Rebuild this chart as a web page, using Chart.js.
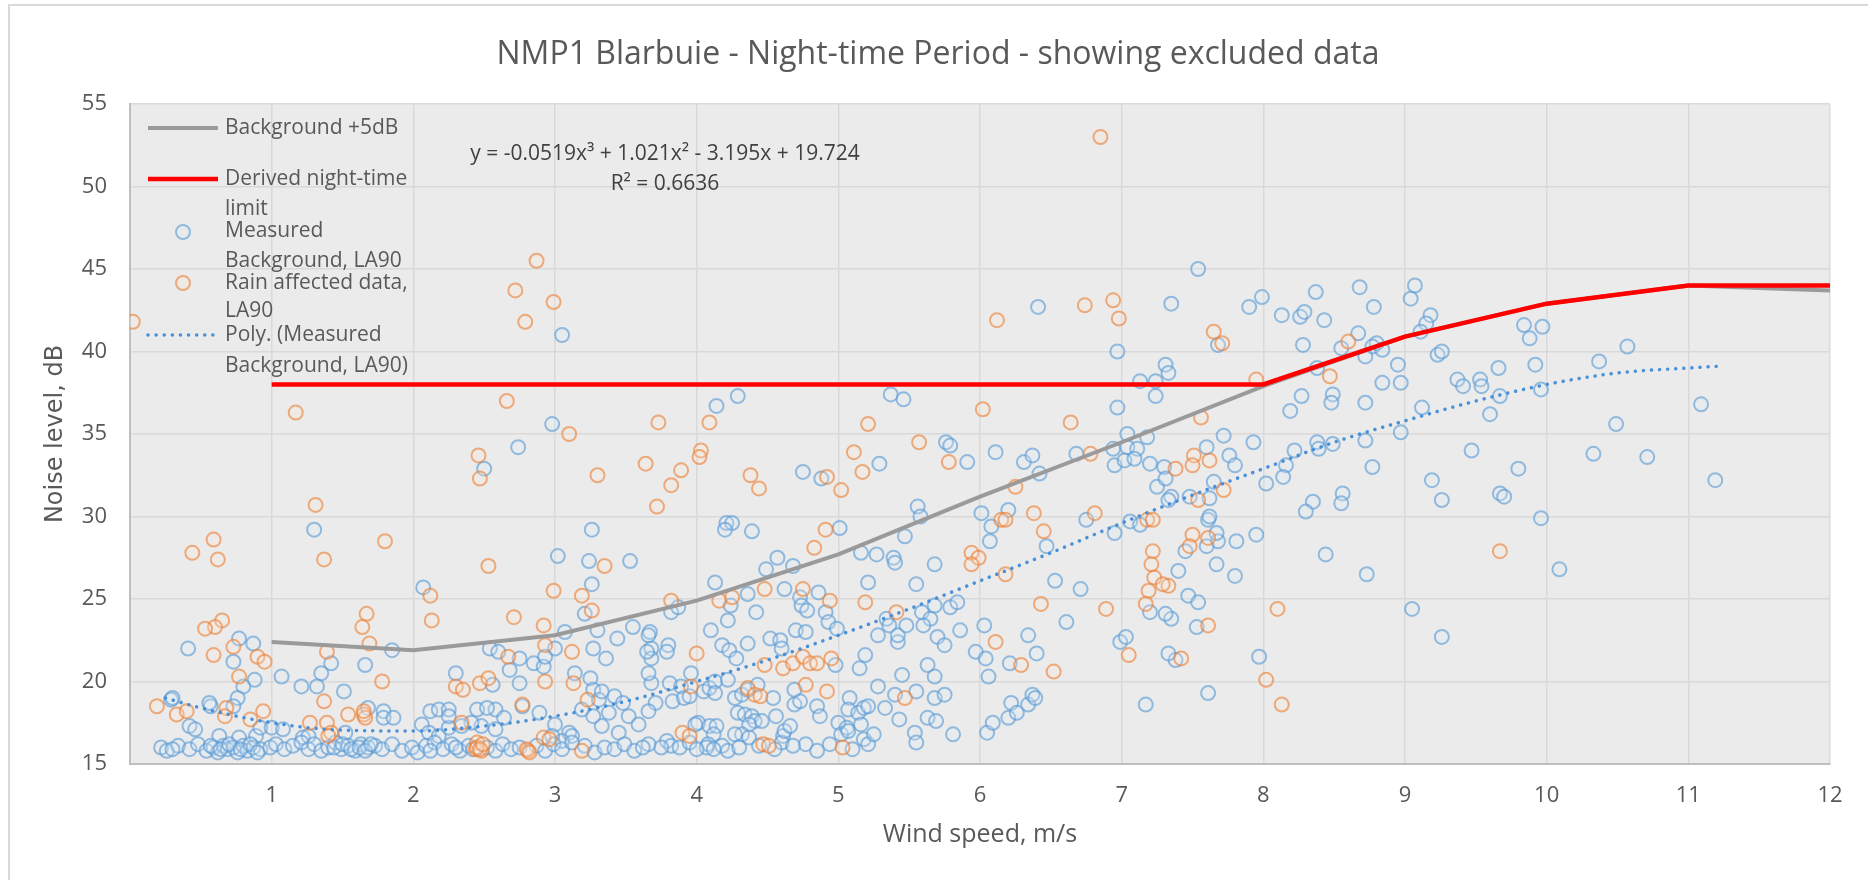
<!DOCTYPE html>
<html>
<head>
<meta charset="utf-8">
<script src="https://cdn.jsdelivr.net/npm/chart.js@4.4.1/dist/chart.umd.min.js"></script>
<style>
  html, body { margin: 0; padding: 0; background: #ffffff; overflow: hidden; }
  #wrap { position: relative; width: 1868px; height: 880px; }
  #frame { position: absolute; left: 8px; top: 4px; width: 2000px; height: 1000px; border: 2px solid #d9d9d9; }
  canvas { position: absolute; left: 0; top: 0; }
</style>
</head>
<body>
<div id="wrap">
  <div id="frame"></div>
  <canvas id="chart" width="1868" height="880"></canvas>
</div>
<script>
const fontFamily = '"Open Sans", "Liberation Sans", sans-serif';
const textColor = "#595959";

const chartTitle = "NMP1 Blarbuie - Night-time Period - showing excluded data";
const xAxisTitle = "Wind speed, m/s";
const yAxisTitle = "Noise level, dB";
const trendEquation = "y = -0.0519x³ + 1.021x² - 3.195x + 19.724";
const trendR2 = "R² = 0.6636";

// Background +5dB and derived limit, read at each integer wind speed
const limitWindSpeeds = [1, 2, 3, 4, 5, 6, 7, 8, 9, 10, 11, 12];
const backgroundPlus5 = [22.4, 21.9, 22.8, 24.9, 27.7, 31.2, 34.5, 37.9, 40.9, 42.9, 44.0, 43.7];
const derivedLimit = [38, 38, 38, 38, 38, 38, 38, 38, 40.9, 42.9, 44.0, 44.0];

// dotted polynomial trendline
const polyWindSpeeds = [0.25, 0.5, 1, 1.5, 2, 2.5, 3, 3.5, 4, 4.5, 5, 5.5, 6, 6.5, 7, 7.5, 8, 8.5, 9, 9.5, 10, 10.5, 11, 11.2];
const polyLevels = [19.0, 18.4, 17.5, 17.05, 17.0, 17.3, 17.9, 18.8, 20.0, 21.3, 22.8, 24.4, 26.1, 27.8, 29.6, 31.3, 32.9, 34.5, 35.8, 37.0, 38.0, 38.7, 39.0, 39.1];

// [wind speed, LA90]
const measuredBackground = [
  [3.05,41.0],[2.98,35.6],[2.74,34.2],[2.50,32.9],
  [6.41,42.7],[7.35,42.9],[6.97,40.0],[7.31,39.2],[7.33,38.7],[7.13,38.2],[7.24,38.2],[7.24,37.3],[6.97,36.6],
  [4.29,37.3],[4.14,36.7],[5.37,37.4],[5.46,37.1],[5.76,34.5],[5.79,34.3],[5.91,33.3],[6.11,33.9],[6.31,33.3],
  [6.37,33.7],[6.42,32.6],[6.68,33.8],[6.94,34.1],[7.04,35.0],[7.04,34.2],[7.11,34.1],[7.18,34.8],[6.95,33.1],
  [7.02,33.4],[7.09,33.5],[7.20,33.2],[7.30,33.0],[5.29,33.2],[4.75,32.7],[4.88,32.3],
  [7.54,45.0],[7.90,42.7],[7.99,43.3],[8.13,42.2],[8.26,42.1],[8.29,42.4],[8.37,43.6],[8.43,41.9],[8.68,43.9],
  [8.78,42.7],[9.07,44.0],[9.04,43.2],[9.18,42.2],[9.15,41.7],[9.11,41.2],[9.84,41.6],[9.97,41.5],[9.88,40.8],
  [7.68,40.4],[8.28,40.4],[8.67,41.1],[8.55,40.2],[8.80,40.5],[8.77,40.3],[8.84,40.1],[8.72,39.7],[8.95,39.2],
  [9.23,39.8],[9.26,40.0],[9.66,39.0],[9.92,39.2],[10.37,39.4],[10.57,40.3],[8.38,39.0],[8.84,38.1],[8.97,38.1],
  [9.37,38.3],[9.41,37.9],[9.53,38.3],[9.54,37.9],[9.67,37.3],[9.96,37.7],[8.27,37.3],[8.49,37.4],[8.48,36.9],
  [8.19,36.4],[8.72,36.9],[9.12,36.6],[9.60,36.2],[10.49,35.6],[11.09,36.8],[8.97,35.1],[8.72,34.6],[7.72,34.9],
  [7.93,34.5],[7.60,34.2],[7.76,33.7],[7.80,33.1],[8.38,34.5],[8.39,34.1],[8.49,34.4],[8.22,34.0],[8.16,33.1],
  [8.77,33.0],[9.47,34.0],[9.80,32.9],[10.33,33.8],[10.71,33.6],[9.19,32.2],[8.02,32.0],[8.14,32.4],[7.65,32.1],
  [8.35,30.9],[8.30,30.3],[8.56,31.4],[8.55,30.8],[9.26,31.0],[9.67,31.4],[9.70,31.2],[9.96,29.9],[10.09,26.8],
  [8.44,27.7],[8.73,26.5],[9.05,24.4],[9.26,22.7],[7.97,21.5],[7.61,19.3],[7.38,21.3],[7.53,23.3],[7.35,23.8],
  [7.47,25.2],[7.54,24.8],[7.40,26.7],[7.67,27.1],[7.80,26.4],[7.95,28.9],[7.81,28.5],[7.68,28.5],[7.60,28.2],
  [7.45,27.9],[7.67,29.0],[7.61,29.8],[7.62,30.0],[7.62,31.1],[7.48,31.2],[7.35,31.2],[11.19,32.2],
  [7.25,31.8],[7.31,32.3],[7.33,31.0],[5.56,30.6],[5.58,30.0],[6.01,30.2],[6.20,30.4],[6.75,29.8],[7.06,29.7],
  [7.13,29.5],[6.95,29.0],[6.08,29.4],[6.07,28.5],[4.21,29.6],[4.25,29.6],[4.20,29.2],[4.39,29.1],[5.01,29.3],
  [5.47,28.8],[4.57,27.5],[4.49,26.8],[4.68,27.0],[5.16,27.8],[5.27,27.7],[5.39,27.5],[5.40,27.2],[5.68,27.1],
  [6.47,28.2],[6.53,26.1],[6.71,25.6],[7.20,24.2],[6.61,23.6],[4.13,26.0],[3.82,24.2],[3.87,24.5],[4.24,24.6],
  [4.22,23.7],[4.36,25.3],[4.42,24.2],[4.62,25.6],[4.73,25.1],[4.74,24.6],[4.78,24.3],[4.86,25.4],[4.91,24.2],
  [4.93,23.6],[4.99,23.2],[5.21,26.0],[5.55,25.9],[5.34,23.8],[5.36,23.4],[5.59,24.2],[5.65,23.8],[5.60,23.4],
  [5.68,24.6],[5.79,24.5],[5.84,24.8],[5.86,23.1],[6.03,23.4],
  [3.67,23.0],[3.68,22.0],[3.68,21.4],[3.80,22.2],[3.79,21.8],[4.10,23.1],[4.18,22.2],[4.23,21.9],[4.28,21.4],
  [4.36,22.3],[4.52,22.6],[4.59,22.5],[4.60,22.0],[4.70,23.1],[4.77,23.0],[4.98,21.0],[5.15,20.8],[5.19,21.6],
  [5.28,22.8],[5.42,22.4],[5.42,22.8],[5.48,23.4],[5.70,22.7],[5.75,22.2],[5.63,21.0],[5.68,20.3],[5.45,20.4],
  [5.97,21.8],[6.04,21.4],[6.34,22.8],[6.40,21.7],[6.21,21.1],[6.06,20.3],[6.99,22.4],[7.03,22.7],[7.33,21.7],
  [7.31,24.1],
  [3.96,20.5],[3.81,19.9],[3.89,19.7],[3.71,18.7],[3.66,18.2],[3.83,18.8],[3.91,19.0],[3.95,19.1],[4.05,19.4],
  [4.09,19.6],[4.13,20.0],[4.22,20.1],[4.13,19.3],[4.01,17.5],[3.99,17.4],[4.09,17.3],[4.14,17.3],[4.12,16.8],
  [4.18,16.1],[4.08,16.2],[3.79,16.4],[3.82,16.1],[3.75,16.0],[3.88,16.0],[3.66,16.2],[4.27,19.0],[4.32,19.2],
  [4.36,19.5],[4.43,19.8],[4.29,18.1],[4.34,18.0],[4.39,17.9],[4.41,17.6],[4.37,17.4],[4.46,17.6],[4.32,16.8],
  [4.37,16.6],[4.27,16.8],[4.44,16.1],[4.61,16.7],[4.60,16.3],[4.62,17.0],[4.66,17.3],[4.56,17.9],[4.54,19.0],
  [4.69,18.6],[4.73,18.8],[4.69,19.5],[4.85,18.5],[4.87,17.9],[4.77,16.2],[4.94,16.2],[5.00,17.5],[5.02,16.8],
  [5.06,17.2],[5.07,17.0],[5.08,19.0],[5.07,18.3],[5.14,18.1],[5.18,18.4],[5.21,18.5],[5.16,17.4],[5.18,16.5],
  [5.21,16.2],[5.25,16.8],[5.28,19.7],[5.33,18.4],[5.40,19.2],[5.43,17.7],[5.55,19.4],[5.54,16.9],[5.55,16.3],
  [5.63,17.8],[5.69,17.6],[5.68,19.0],[5.75,19.2],[5.81,16.8],[6.05,16.9],[6.09,17.5],[6.20,17.8],[6.22,18.7],
  [6.26,18.1],[6.34,18.6],[6.37,19.2],[6.39,19.0],[7.17,18.6],[3.68,19.9],[3.66,20.5],[4.07,16.0],[4.12,15.9],
  [4.22,15.8],[4.30,16.0],[4.55,15.9],[4.68,16.1],[4.85,15.8],[5.10,15.9],[3.95,16.3],[4.00,15.9],
  [1.30,29.2],[3.02,27.6],[3.24,27.3],[3.53,27.3],[3.26,29.2],[3.26,25.9],[3.21,24.1],[3.07,23.0],[3.00,22.0],
  [3.27,22.0],[3.30,23.1],[3.44,22.6],[3.55,23.3],[3.36,21.4],[3.66,22.8],[3.65,21.8],[2.07,25.7],[1.66,21.0],
  [1.42,21.1],[1.35,20.5],[1.32,19.7],[1.21,19.7],[1.85,21.9],[1.51,19.4],[1.07,20.3],
  [0.41,22.0],[0.77,22.6],[0.87,22.3],[0.73,21.2],[0.88,20.1],[0.80,19.7],[0.76,19.0],[0.73,18.5],[0.29,18.9],
  [0.57,18.5],[0.42,17.3],[0.46,17.1],[0.89,16.7],[0.92,17.2],[1.00,17.2],[1.08,17.1],[0.30,19.0],[0.56,18.7],
  [1.68,18.4],[1.79,18.2],[1.79,17.8],[1.86,17.8],[1.52,16.9],
  [2.12,18.2],[2.18,18.3],[2.25,18.3],[2.30,20.5],[2.54,22.0],[2.60,21.8],[2.68,20.7],[2.75,21.4],[2.75,19.9],
  [2.85,21.1],[2.92,20.9],[2.93,21.5],[2.56,19.8],
  [3.14,20.5],[3.25,20.2],[3.27,19.5],[3.31,18.9],[3.33,19.4],[3.42,19.1],[3.48,18.7],[3.38,18.1],[3.52,17.9],
  [3.59,17.4],[3.45,16.9],[3.33,17.3],[3.27,17.9],[3.19,18.3],
  [2.77,18.5],[2.89,18.1],[3.00,17.4],[3.10,16.9],[3.12,16.7],[3.05,16.4],[2.98,16.7],
  [2.58,18.3],[2.64,17.8],[2.58,17.1],[2.48,17.3],[2.41,17.5],[2.34,17.3],[2.06,17.4],[2.11,16.9],[2.18,16.7],
  [2.25,17.2],[2.45,18.3],[2.52,18.4],[2.25,17.9],[0.63,16.7],[0.77,16.6],[1.22,16.6],[1.26,16.7],
  [0.22,16.0],[0.26,15.8],[0.34,16.1],[0.42,15.9],[0.48,16.2],[0.54,15.8],[0.59,16.0],[0.62,15.7],[0.66,16.1],
  [0.69,15.9],[0.73,16.0],[0.76,15.7],[0.80,16.1],[0.83,15.8],[0.87,16.0],[0.92,15.9],[0.99,16.0],[1.03,16.2],
  [1.09,15.9],[1.15,16.1],[1.21,16.3],[1.26,15.9],[1.30,16.2],[1.35,15.8],[1.40,16.0],[1.45,16.3],[1.49,15.9],
  [1.54,16.1],[1.59,15.8],[1.63,16.2],[1.68,16.0],[1.73,16.1],[1.78,15.9],[1.85,16.2],[1.92,15.8],[1.99,16.0],
  [2.03,15.7],[2.09,16.1],[2.15,16.3],[2.21,15.9],[2.27,16.2],[2.33,15.8],[2.39,16.1],[2.52,16.0],[2.58,15.8],
  [2.63,16.2],[2.69,15.9],[2.75,16.0],[2.87,16.1],[2.93,15.8],[2.99,16.2],[3.05,15.9],[3.12,16.3],[3.21,16.1],
  [3.28,15.7],[3.35,16.0],[3.42,15.9],[3.49,16.2],[3.56,15.8],[3.62,16.0],
  [0.57,16.1],[0.64,15.9],[0.70,16.2],[0.78,15.9],[0.85,16.2],[0.90,15.7],[1.44,16.0],[1.50,16.2],[1.56,15.9],
  [1.62,16.0],[1.66,15.8],[1.70,16.2],[2.12,15.8],[2.30,16.0],[2.42,15.9],[0.30,15.9]
];

const rainAffected = [
  [0.02,41.8],[2.87,45.5],[2.72,43.7],[2.99,43.0],[2.79,41.8],
  [2.66,37.0],[1.17,36.3],[3.10,35.0],[2.46,33.7],[2.47,32.3],[3.30,32.5],[3.64,33.2],
  [6.85,53.0],[6.12,41.9],[6.74,42.8],[6.94,43.1],[6.98,42.0],
  [3.73,35.7],[4.09,35.7],[5.21,35.6],[6.02,36.5],[6.64,35.7],[5.57,34.5],[5.78,33.3],[6.78,33.8],
  [5.11,33.9],[5.17,32.7],[4.92,32.4],[4.38,32.5],[4.03,34.0],[4.02,33.6],[3.89,32.8],[3.82,31.9],
  [7.65,41.2],[7.71,40.5],[8.60,40.6],[7.95,38.3],[8.47,38.5],[7.56,36.0],
  [7.51,33.7],[7.50,33.1],[7.62,33.4],[7.38,32.9],
  [9.67,27.9],[8.10,24.4],[8.02,20.1],[8.13,18.6],
  [7.42,21.4],[7.61,23.4],[7.33,25.8],[7.50,28.9],[7.61,28.7],[7.48,28.2],[7.72,31.6],[7.54,31.0],
  [3.72,30.6],[4.44,31.7],[5.02,31.6],[6.25,31.8],[6.15,29.8],[6.18,29.8],[6.38,30.2],[6.81,30.2],[7.18,29.8],
  [7.22,29.8],[6.45,29.1],[4.91,29.2],[4.83,28.1],[5.94,27.8],[5.99,27.5],[5.94,27.1],[7.22,27.9],[7.21,27.1],
  [7.23,26.3],[7.29,25.9],[7.19,25.5],[7.17,24.7],[6.89,24.4],[6.43,24.7],[6.18,26.5],
  [3.82,24.9],[4.16,24.9],[4.25,25.1],[4.48,25.6],[4.75,25.6],[4.94,24.9],[5.19,24.8],[5.41,24.2],
  [4.00,21.7],[4.48,21.0],[4.61,20.8],[4.68,21.1],[4.75,21.5],[4.80,21.1],[4.85,21.1],[4.95,21.4],[6.11,22.4],
  [6.29,21.0],[6.52,20.6],[7.05,21.6],
  [3.96,19.7],[3.90,16.9],[3.95,16.7],[4.36,19.6],[4.41,19.2],[4.45,19.1],[4.47,16.2],[4.51,16.1],[4.77,19.8],
  [4.92,19.4],[5.03,16.0],[5.47,19.0],
  [1.31,30.7],[1.80,28.5],[1.37,27.4],[0.59,28.6],[0.44,27.8],[0.62,27.4],[2.53,27.0],[3.35,27.0],[3.19,25.2],
  [3.26,24.3],[2.99,25.5],[2.71,23.9],[2.92,23.4],[2.93,22.2],[3.12,21.8],[2.12,25.2],[2.13,23.7],[1.67,24.1],
  [1.64,23.3],[1.69,22.3],[1.39,21.8],[1.78,20.0],
  [0.65,23.7],[0.60,23.3],[0.53,23.2],[0.59,21.6],[0.73,22.1],[0.90,21.5],[0.95,21.2],[0.77,20.3],
  [0.94,18.2],[0.68,18.4],[0.67,17.9],[0.33,18.0],[0.40,18.2],[0.19,18.5],[0.85,17.7],
  [1.27,17.5],[1.39,17.5],[1.37,18.8],[1.54,18.0],[1.65,18.0],[1.66,17.8],[1.65,18.2],[1.42,16.9],[1.40,16.7],
  [2.30,19.7],[2.35,19.5],[2.47,19.9],[2.53,20.2],[2.67,21.5],[2.93,20.0],[3.13,19.9],[3.23,18.9],[2.77,18.6],
  [2.92,16.6],[2.96,16.5],[2.81,15.8],[3.19,15.8],[2.45,16.3],[2.48,15.8],[2.44,15.9],[2.34,17.5],
  [2.45,16.0],[2.47,15.9],[2.49,16.2],[2.80,15.9],[2.82,15.7]
];

const plotBackground = {
  id: "plotBackground",
  beforeDraw(chart) {
    const { ctx, chartArea: a } = chart;
    ctx.save();
    ctx.fillStyle = "#ebebeb";
    ctx.fillRect(a.left, a.top, a.right - a.left, a.bottom - a.top);
    // title is centred on the whole frame, not on the chart area
    ctx.font = "32px " + fontFamily;
    ctx.fillStyle = textColor;
    ctx.textAlign = "center";
    ctx.textBaseline = "middle";
    ctx.fillText(chartTitle, 938, 55);
    ctx.restore();
  }
};

// legend sits inside the plot, top left, with wrapped labels
const insideLegend = {
  id: "insideLegend",
  afterDraw(chart) {
    const { ctx, chartArea: a } = chart;
    const sets = chart.data.datasets;
    const x0 = a.left + 18, x1 = a.left + 88, tx = a.left + 95, cx = a.left + 53;
    ctx.save();
    ctx.font = "21px " + fontFamily;
    ctx.textBaseline = "middle";

    function lineSample(ds, y) {
      ctx.save();
      ctx.strokeStyle = ds.borderColor;
      ctx.lineWidth = ds.borderWidth;
      ctx.lineCap = ds.borderCapStyle || "butt";
      ctx.setLineDash(ds.borderDash || []);
      ctx.beginPath();
      ctx.moveTo(x0, y);
      ctx.lineTo(x1, y);
      ctx.stroke();
      ctx.restore();
    }
    function circleSample(ds, y) {
      ctx.save();
      ctx.strokeStyle = ds.borderColor;
      ctx.fillStyle = ds.backgroundColor;
      ctx.lineWidth = ds.borderWidth;
      ctx.beginPath();
      ctx.arc(cx, y, ds.pointRadius, 0, Math.PI * 2);
      ctx.fill();
      ctx.stroke();
      ctx.restore();
    }
    function label(lines, y, gap) {
      ctx.fillStyle = textColor;
      lines.forEach((t, i) => ctx.fillText(t, tx, y + i * gap));
    }

    lineSample(sets[1], a.top + 24);
    label(["Background +5dB"], a.top + 24, 0);
    lineSample(sets[0], a.top + 75);
    label(["Derived night-time", "limit"], a.top + 75, 30);
    circleSample(sets[3], a.top + 128);
    label(["Measured", "Background, LA90"], a.top + 127, 30);
    circleSample(sets[4], a.top + 179);
    label(["Rain affected data,", "LA90"], a.top + 179, 28);
    lineSample(sets[2], a.top + 231);
    label(["Poly. (Measured", "Background, LA90)"], a.top + 231, 31);

    // trendline label
    ctx.font = "21px " + fontFamily;
    ctx.fillStyle = "#404040";
    ctx.textAlign = "center";
    ctx.fillText(trendEquation, a.left + 535, a.top + 50);
    ctx.fillText(trendR2, a.left + 535, a.top + 80);
    ctx.restore();
  }
};

function toPoints(xs, ys) {
  return xs.map((x, i) => ({ x: x, y: ys[i] }));
}
function pairsToPoints(pairs) {
  return pairs.map(p => ({ x: p[0], y: p[1] }));
}

window.addEventListener("DOMContentLoaded", function() {
  const ctx = document.getElementById("chart").getContext("2d");
  new Chart(ctx, {
    type: "scatter",
    data: {
      datasets: [
        {
          label: "Derived night-time limit",
          type: "line",
          data: toPoints(limitWindSpeeds, derivedLimit),
          borderColor: "#ff0000",
          borderWidth: 4.5,
          pointRadius: 0,
          fill: false,
          order: 0,
        },
        {
          label: "Background +5dB",
          type: "line",
          data: toPoints(limitWindSpeeds, backgroundPlus5),
          borderColor: "#9a9a9a",
          borderWidth: 4,
          pointRadius: 0,
          fill: false,
          order: 1,
        },
        {
          label: "Poly. (Measured Background, LA90)",
          type: "line",
          data: toPoints(polyWindSpeeds, polyLevels),
          borderColor: "#4a90d9",
          borderWidth: 3.5,
          borderDash: [0.1, 8],
          borderCapStyle: "round",
          cubicInterpolationMode: "monotone",
          pointRadius: 0,
          fill: false,
          order: 2,
        },
        {
          label: "Measured Background, LA90",
          data: pairsToPoints(measuredBackground),
          borderColor: "rgba(91, 155, 213, 0.62)",
          backgroundColor: "rgba(225, 236, 247, 0.25)",
          borderWidth: 2,
          pointRadius: 7,
          order: 4,
        },
        {
          label: "Rain affected data, LA90",
          data: pairsToPoints(rainAffected),
          borderColor: "rgba(237, 125, 49, 0.6)",
          backgroundColor: "rgba(250, 230, 215, 0.25)",
          borderWidth: 2,
          pointRadius: 7,
          order: 3,
        },
      ],
    },
    options: {
      responsive: false,
      animation: false,
      events: [],
      layout: { padding: { left: 0, right: 38, top: 104, bottom: 0 } },
      plugins: {
        legend: { display: false },
        tooltip: { enabled: false },
        title: { display: false },
      },
      scales: {
        x: {
          type: "linear",
          min: 0,
          max: 12,
          ticks: {
            stepSize: 1,
            color: textColor,
            padding: 19,
            font: { family: fontFamily, size: 22 },
            callback: v => (v === 0 ? "" : v),
          },
          grid: { color: "#d9d9d9", lineWidth: 1.5, drawTicks: false },
          border: { color: "#bfbfbf", width: 2 },
          title: {
            display: true,
            text: xAxisTitle,
            color: textColor,
            font: { family: fontFamily, size: 25 },
            padding: { top: 0, bottom: 30 },
          },
          afterFit: scale => { scale.height = 116; },
        },
        y: {
          min: 15,
          max: 55,
          ticks: {
            stepSize: 5,
            color: textColor,
            padding: 23,
            font: { family: fontFamily, size: 22 },
          },
          grid: { color: "#d9d9d9", lineWidth: 1.5, drawTicks: false },
          border: { color: "#bfbfbf", width: 2 },
          title: {
            display: true,
            text: yAxisTitle,
            color: textColor,
            font: { family: '"DejaVu Sans", Verdana, sans-serif', size: 24 },
            padding: { top: 41, bottom: 0 },
          },
          afterFit: scale => { scale.width = 130; },
        },
      },
    },
    plugins: [plotBackground, insideLegend],
  });
});
</script>
</body>
</html>
